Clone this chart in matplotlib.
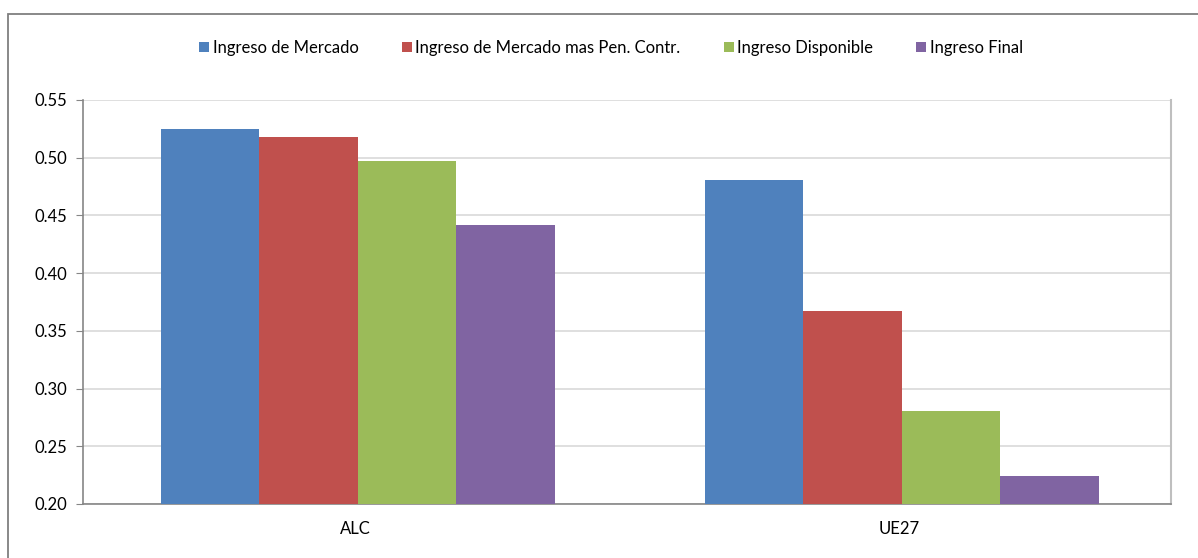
import matplotlib.pyplot as plt
import numpy as np
from matplotlib.patches import Rectangle

plt.rcParams['font.family'] = ['Lato', 'DejaVu Sans']

# datos
categorias = ['ALC', 'UE27']
series = ['Ingreso de Mercado', 'Ingreso de Mercado mas Pen. Contr.',
          'Ingreso Disponible', 'Ingreso Final']
valores = [
    [0.525, 0.481],
    [0.518, 0.367],
    [0.497, 0.281],
    [0.442, 0.224],
]
colores = ['#4F81BD', '#C0504D', '#9BBB59', '#8064A2']
yticks = [0.20, 0.25, 0.30, 0.35, 0.40, 0.45, 0.50, 0.55]

fig = plt.figure(figsize=(11.98, 5.58), dpi=100)
ax = fig.add_axes([83 / 1198, 1 - 504 / 558, 1088 / 1198, 404 / 558])

# marco exterior (cortado a la derecha y abajo)
fig.patches.append(Rectangle((8 / 1198, -0.05), 1.1, 1 - 14 / 558 + 0.05,
                             transform=fig.transFigure, fill=False,
                             edgecolor='#7f7f7f', linewidth=1.3))

x = np.arange(len(categorias))
ancho = 0.181
for i in range(len(series)):
    ax.bar(x + (i - 1.5) * ancho + 0.005, valores[i], ancho, bottom=0,
           color=colores[i], label=series[i], edgecolor='none', zorder=3)

ax.set_ylim(0.20, 0.55)
ax.set_xlim(-0.5, 1.5)
ax.set_yticks(yticks)
ax.set_yticklabels(['%.2f' % v for v in yticks], fontsize=12)
ax.set_xticks(x)
ax.set_xticklabels(categorias, fontsize=12)
ax.tick_params(axis='x', length=0, pad=12)
ax.tick_params(axis='y', length=5, color='#868686', direction='out', pad=6)
ax.grid(axis='y', color='#d9d9d9', linewidth=1.2, zorder=0)
for s in ['left', 'bottom']:
    ax.spines[s].set_color('#868686')
    ax.spines[s].set_linewidth(1.2)
ax.spines['top'].set_visible(False)
ax.spines['right'].set_color('#bfbfbf')
ax.spines['right'].set_linewidth(1.5)

ax.legend(loc='center', ncol=4, frameon=False, fontsize=12,
          handlelength=0.6, handleheight=0.6, handletextpad=0.2, columnspacing=2.6)
leg = ax.get_legend()
leg.set_bbox_to_anchor((0.51, 1 - 48 / 558), transform=fig.transFigure)

fig.savefig('out.png', dpi=100)
